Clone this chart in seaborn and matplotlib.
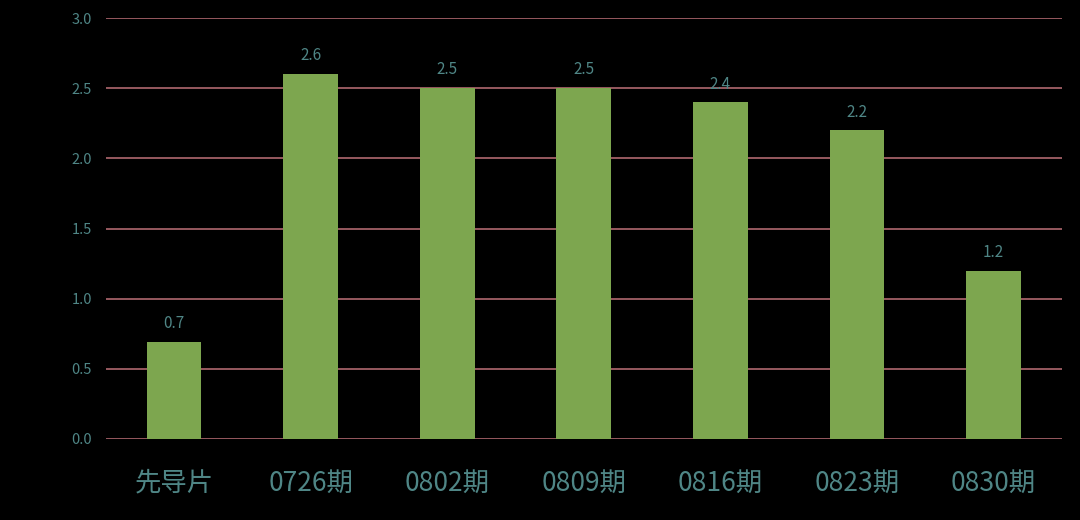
import matplotlib
matplotlib.use("Agg")
import matplotlib.pyplot as plt
import seaborn as sns
import pandas as pd

categories = ["先导片", "0726期", "0802期", "0809期", "0816期", "0823期", "0830期"]
values = [0.69, 2.6, 2.5, 2.5, 2.4, 2.2, 1.2]
yticks = [0.0, 0.5, 1.0, 1.5, 2.0, 2.5, 3.0]

bar_color = "#7da64f"
grid_color = "#b0686f"
text_color = "#4f8686"

sns.set_theme(style="dark")
plt.rcParams["font.family"] = ["Noto Sans CJK SC", "DejaVu Sans"]

df = pd.DataFrame({"episode": categories, "value": values})

fig = plt.figure(figsize=(10.8, 5.2), dpi=100, facecolor="black")
ax = fig.add_axes([0.098, 0.156, 0.885, 0.809])
ax.set_facecolor("black")

sns.barplot(data=df, x="episode", y="value", color=bar_color, width=0.4,
            saturation=1, linewidth=0, ax=ax, zorder=3)

ax.set_xlim(-0.5, len(categories) - 0.5)
ax.set_ylim(0, 3.0)
ax.set_yticks(yticks)
ax.set_yticklabels([f"{t:.1f}" for t in yticks])
for t in yticks:
    ax.axhline(t, color=grid_color, linewidth=1.2, zorder=1)
ax.grid(False)

for i, v in enumerate(values):
    ax.text(i, v + 0.07, f"{v:.1f}", ha="center", va="bottom",
            fontsize=11, color=text_color)

ax.set_xlabel("")
ax.set_ylabel("")
ax.tick_params(axis="y", labelsize=10.5, colors=text_color, length=0, pad=10)
ax.tick_params(axis="x", labelsize=19, colors=text_color, length=0, pad=22)
for s in ax.spines.values():
    s.set_visible(False)

fig.savefig("out.png", dpi=100, facecolor="black")
